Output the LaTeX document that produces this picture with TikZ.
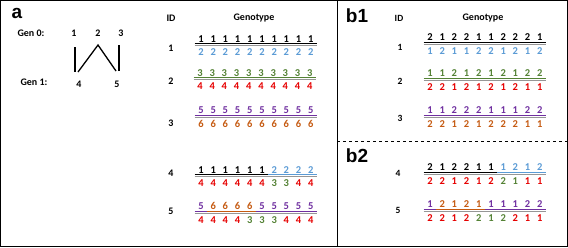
\documentclass[tikz,border=0pt]{standalone}
\usepackage{fontspec}
\setmainfont{Carlito}
\newfontfamily\arialf{Liberation Sans}
\definecolor{cblk}{RGB}{0,0,0}
\definecolor{cblu}{RGB}{91,155,213}
\definecolor{cgrn}{RGB}{84,130,53}
\definecolor{cred}{RGB}{230,0,0}
\definecolor{cpur}{RGB}{112,48,160}
\definecolor{corg}{RGB}{197,90,17}
\definecolor{sepgray}{RGB}{150,150,150}
\tikzset{
  dig/.style={inner xsep=0pt, inner ysep=1.5pt, minimum width=12.2pt, text height=7pt, text depth=0pt, font=\fontsize{10.5}{12}\selectfont\bfseries},
  lbl/.style={inner sep=0pt, font=\fontsize{10}{12}\selectfont\bfseries},
  idl/.style={inner sep=0pt, font=\fontsize{9.5}{12}\selectfont\bfseries},
  panel/.style={inner sep=0pt, font=\arialf\fontsize{19}{22}\selectfont\bfseries},
  ul/.style={line width=0.6pt},
  sepl/.style={draw=sepgray, line width=1.2pt},
  ped/.style={line width=1.3pt},
}
\newcommand\genorow[5]{%
  \foreach \c/\d [count=\i] in {#4} {
    \node[dig, text=\c] (#1t\i) at ({#2+12.2*(\i-1)},{#3-7}) {\d};
    \draw[ul, \c] (#1t\i.south west) -- (#1t\i.south east);
  }
  \foreach \c/\d [count=\i] in {#5} {
    \node[dig, text=\c] (#1b\i) at ({#2+12.2*(\i-1)},{#3+6.5}) {\d};
  }
  \draw[sepl] ([yshift=-2pt]#1t1.south west) -- ([yshift=-2pt]#1t10.south east);
}
\begin{document}
\begin{tikzpicture}[x=1pt, y=-1pt]
\useasboundingbox (0,0) rectangle (568,247);
\draw[line width=1pt] (0.5,0.5) rectangle (567.5,246.5);
\draw[line width=1pt] (337,0) -- (337,247);
\draw[dashed, line width=0.6pt] (337,141) -- (568,141);

% panel a
\node[panel] (pa) at (17,13) {a};
\node[lbl] (g0) at (31,33) {Gen 0:};
\node[lbl] (g1) at (34,82) {Gen 1:};
\node[lbl] (p1) at (74,33) {1};
\node[lbl] (p2) at (98,33) {2};
\node[lbl] (p3) at (121,33) {3};
\node[lbl] (p4) at (79,84) {4};
\node[lbl] (p5) at (117,84) {5};
\coordinate (c1a) at (75,47);
\coordinate (c1b) at (75,72);
\coordinate (c2l) at (78,72);
\coordinate (c2t) at (98,45);
\coordinate (c2r) at (116,71);
\coordinate (c3a) at (119,45);
\coordinate (c3b) at (119,71);
\draw[ped] (c1a) -- (c1b);
\draw[ped] (c2l) -- (c2t) -- (c2r);
\draw[ped] (c3a) -- (c3b);

\node[lbl] (aid) at (171,18) {ID};
\node[lbl] (agt) at (254,18) {Genotype};
\node[lbl] (aid1) at (171,48) {1};
\node[lbl] (aid2) at (171,81) {2};
\node[lbl] (aid3) at (171,123) {3};
\node[lbl] (aid4) at (171,173) {4};
\node[lbl] (aid5) at (171,211) {5};

\genorow{ar1}{201}{45.5}{cblk/1,cblk/1,cblk/1,cblk/1,cblk/1,cblk/1,cblk/1,cblk/1,cblk/1,cblk/1}{cblu/2,cblu/2,cblu/2,cblu/2,cblu/2,cblu/2,cblu/2,cblu/2,cblu/2,cblu/2}
\genorow{ar2}{200}{79.5}{cgrn/3,cgrn/3,cgrn/3,cgrn/3,cgrn/3,cgrn/3,cgrn/3,cgrn/3,cgrn/3,cgrn/3}{cred/4,cred/4,cred/4,cred/4,cred/4,cred/4,cred/4,cred/4,cred/4,cred/4}
\genorow{ar3}{201}{117}{cpur/5,cpur/5,cpur/5,cpur/5,cpur/5,cpur/5,cpur/5,cpur/5,cpur/5,cpur/5}{corg/6,corg/6,corg/6,corg/6,corg/6,corg/6,corg/6,corg/6,corg/6,corg/6}
\genorow{ar4}{201}{176.5}{cblk/1,cblk/1,cblk/1,cblk/1,cblk/1,cblk/1,cblu/2,cblu/2,cblu/2,cblu/2}{cred/4,cred/4,cred/4,cred/4,cred/4,cred/4,cgrn/3,cgrn/3,cred/4,cred/4}
\genorow{ar5}{201}{213}{cpur/5,corg/6,corg/6,corg/6,corg/6,cpur/5,cpur/5,cpur/5,cpur/5,cpur/5}{cred/4,cred/4,cred/4,cred/4,cgrn/3,cgrn/3,cgrn/3,cred/4,cred/4,cred/4}

% panel b1
\node[panel] (pb1) at (357,16) {b1};
\node[idl] (bid) at (399,18) {ID};
\node[lbl] (bgt) at (483,18) {Genotype};
\node[idl] (bid1) at (400,47) {1};
\node[idl] (bid2) at (400,81) {2};
\node[idl] (bid3) at (400,118) {3};
\genorow{br1}{430}{44}{cblk/2,cblk/1,cblk/2,cblk/2,cblk/1,cblk/1,cblk/2,cblk/2,cblk/2,cblk/1}{cblu/1,cblu/2,cblu/1,cblu/1,cblu/2,cblu/2,cblu/1,cblu/2,cblu/1,cblu/2}
\genorow{br2}{430}{80}{cgrn/1,cgrn/1,cgrn/2,cgrn/1,cgrn/2,cgrn/1,cgrn/2,cgrn/1,cgrn/2,cgrn/2}{cred/2,cred/2,cred/1,cred/2,cred/1,cred/2,cred/1,cred/2,cred/1,cred/1}
\genorow{br3}{430}{117}{cpur/1,cpur/1,cpur/2,cpur/2,cpur/2,cpur/1,cpur/1,cpur/1,cpur/2,cpur/2}{corg/2,corg/2,corg/1,corg/2,corg/1,corg/2,corg/2,corg/2,corg/1,corg/1}

% panel b2
\node[panel] (pb2) at (357,156) {b2};
\node[idl] (bid4) at (398,173) {4};
\node[idl] (bid5) at (398,210) {5};
\genorow{br4}{430}{174}{cblk/2,cblk/1,cblk/2,cblk/2,cblk/1,cblk/1,cblu/1,cblu/2,cblu/1,cblu/2}{cred/2,cred/2,cred/1,cred/2,cred/1,cred/2,cgrn/2,cgrn/1,cred/1,cred/1}
\genorow{br5}{430}{211}{cpur/1,corg/2,corg/1,corg/2,corg/1,cpur/1,cpur/1,cpur/1,cpur/2,cpur/2}{cred/2,cred/2,cred/1,cred/2,cgrn/2,cgrn/1,cgrn/2,cred/2,cred/1,cred/1}
\end{tikzpicture}
\end{document}
